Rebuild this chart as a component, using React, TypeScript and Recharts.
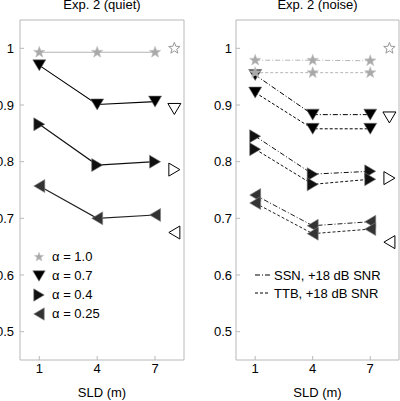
import React from 'react';
import { LineChart, Line, XAxis, YAxis, Legend } from 'recharts';

// SLD (m) categories and the extra reference position for the open markers
const SLD = [1, 4, 7];
const REF_X = 8;

// Exp. 2 (quiet)
const quietA10 = [0.993, 0.993, 0.993];
const quietA07 = [0.970, 0.901, 0.906];
const quietA04 = [0.866, 0.794, 0.800];
const quietA025 = [0.757, 0.700, 0.706];
const quietRef = [1.0, 0.893, 0.786, 0.675];

// Exp. 2 (noise) - SSN (dash-dot) and TTB (dashed)
const ssnA10 = [0.979, 0.979, 0.978];
const ssnA07 = [0.953, 0.883, 0.883];
const ssnA04 = [0.845, 0.778, 0.783];
const ssnA025 = [0.741, 0.687, 0.694];
const ttbA10 = [0.957, 0.957, 0.957];
const ttbA07 = [0.922, 0.858, 0.858];
const ttbA04 = [0.822, 0.760, 0.769];
const ttbA025 = [0.727, 0.673, 0.681];
const noiseRef = [1.0, 0.878, 0.771, 0.658];

const X_TICKS = [1, 4, 7];
const Y_TICKS = [0.5, 0.6, 0.7, 0.8, 0.9, 1];
const ALPHA_LABELS = ['\u03b1 = 1.0', '\u03b1 = 0.7', '\u03b1 = 0.4', '\u03b1 = 0.25'];
const NOISE_LABELS = ['SSN, +18 dB SNR', 'TTB, +18 dB SNR'];

const FONT = '"Liberation Sans", Arial, Helvetica, sans-serif';
const FRAME = '#b8b8b8';
const SSN_DASH = '5 2 1 2';
const TTB_DASH = '3 2';

type Kind = 'star' | 'down' | 'right' | 'left';

const STYLE: Record<Kind, { fill: string; edge: string; line: string }> = {
  star: { fill: '#a9a9a9', edge: '#c4c4c4', line: '#b4b4b4' },
  down: { fill: '#000', edge: '#777', line: '#000' },
  right: { fill: '#111', edge: '#777', line: '#111' },
  left: { fill: '#333', edge: '#888', line: '#222' },
};
const KINDS: Kind[] = ['star', 'down', 'right', 'left'];

const starPoints = (cx: number, cy: number, r: number) => {
  const pts: string[] = [];
  for (let i = 0; i < 10; i++) {
    const rr = i % 2 === 0 ? r : r * 0.42;
    const a = -Math.PI / 2 + (i * Math.PI) / 5;
    pts.push(`${cx + rr * Math.cos(a)},${cy + rr * Math.sin(a)}`);
  }
  return pts.join(' ');
};

const Marker = ({ kind, cx, cy, open = false, s = 1 }: { kind: Kind; cx: number; cy: number; open?: boolean; s?: number }) => {
  const st = STYLE[kind];
  const fill = open ? '#fff' : st.fill;
  const stroke = open ? (kind === 'star' ? '#999' : '#000') : st.edge;
  const sw = open ? 1 : 0.6;
  if (kind === 'star') {
    return <polygon points={starPoints(cx, cy, 6 * s)} fill={fill} stroke={stroke} strokeWidth={sw} />;
  }
  const w = 6.5 * s;
  const h = 5.5 * s;
  let pts = '';
  if (kind === 'down') pts = `${cx - w},${cy - h} ${cx + w},${cy - h} ${cx},${cy + h}`;
  if (kind === 'right') pts = `${cx - h},${cy - w} ${cx - h},${cy + w} ${cx + h},${cy}`;
  if (kind === 'left') pts = `${cx + h},${cy - w} ${cx + h},${cy + w} ${cx - h},${cy}`;
  return <polygon points={pts} fill={fill} stroke={stroke} strokeWidth={sw} />;
};

const dotFor = (kind: Kind, open = false) => (p: any) => {
  const k = `${p.dataKey}-${p.index}`;
  if (p.value == null || p.cy == null || p.cx == null) return <g key={k} />;
  return (
    <g key={k}>
      <Marker kind={kind} cx={p.cx} cy={p.cy} open={open} />
    </g>
  );
};

const makeRows = (cols: Record<string, number[]>, refs: number[]) => [
  ...SLD.map((x, i) => {
    const r: Record<string, number> = { x };
    Object.keys(cols).forEach((k) => (r[k] = cols[k][i]));
    return r;
  }),
  { x: REF_X, r10: refs[0], r07: refs[1], r04: refs[2], r025: refs[3] },
];

const quietRows = makeRows({ a10: quietA10, a07: quietA07, a04: quietA04, a025: quietA025 }, quietRef);
const noiseRows = makeRows(
  {
    s10: ssnA10, s07: ssnA07, s04: ssnA04, s025: ssnA025,
    t10: ttbA10, t07: ttbA07, t04: ttbA04, t025: ttbA025,
  },
  noiseRef,
);

const KEY_SUFFIX = ['10', '07', '04', '025'];

const QuietLegend = () => (
  <div style={{ fontFamily: FONT, fontSize: 13, color: '#000' }}>
    {KINDS.map((kind, i) => (
      <div key={kind} style={{ height: 19, display: 'flex', alignItems: 'center' }}>
        <svg width={16} height={16} style={{ display: 'block' }}>
          <Marker kind={kind} cx={8} cy={8} s={kind === 'star' ? 0.8 : 0.95} />
        </svg>
        <span style={{ marginLeft: 5, whiteSpace: 'nowrap' }}>{ALPHA_LABELS[i]}</span>
      </div>
    ))}
  </div>
);

const NoiseLegend = () => (
  <div style={{ fontFamily: FONT, fontSize: 13, color: '#000' }}>
    {[SSN_DASH, TTB_DASH].map((dash, i) => (
      <div key={dash} style={{ height: 18, display: 'flex', alignItems: 'center' }}>
        <svg width={16} height={10} style={{ display: 'block' }}>
          <line x1={0} y1={5} x2={15} y2={5} stroke="#000" strokeWidth={1} strokeDasharray={dash} />
        </svg>
        <span style={{ marginLeft: 3, whiteSpace: 'nowrap' }}>{NOISE_LABELS[i]}</span>
      </div>
    ))}
  </div>
);

const Axes = ({ leftW, rightW, yMargin }: { leftW: number; rightW: number; yMargin: number }) => null;

const axisTick = { fill: '#000', fontSize: 13, fontFamily: FONT };

const renderAxes = (leftW: number, rightW: number, yMargin: number) => [
  <XAxis
    key="xb"
    xAxisId="b"
    dataKey="x"
    type="number"
    domain={[0, 8.5]}
    ticks={X_TICKS}
    height={41}
    tickSize={-4}
    tickMargin={8}
    stroke={FRAME}
    tick={axisTick}
    label={{ value: 'SLD (m)', position: 'insideBottom', offset: 4, fill: '#000', fontSize: 13, fontFamily: FONT }}
  />,
  <XAxis
    key="xt"
    xAxisId="t"
    orientation="top"
    type="number"
    domain={[0, 8.5]}
    ticks={X_TICKS}
    height={20}
    tickSize={-4}
    tick={false}
    stroke={FRAME}
  />,
  <YAxis
    key="yl"
    yAxisId="l"
    type="number"
    domain={[0.45, 1.05]}
    ticks={Y_TICKS}
    width={leftW}
    tickSize={-4}
    tickMargin={yMargin}
    stroke={FRAME}
    tick={axisTick}
  />,
  <YAxis
    key="yr"
    yAxisId="r"
    orientation="right"
    type="number"
    domain={[0.45, 1.05]}
    ticks={Y_TICKS}
    width={rightW}
    tickSize={-4}
    tick={false}
    stroke={FRAME}
  />,
];

const refLines = () =>
  KINDS.map((kind, i) => (
    <Line
      key={`r${i}`}
      xAxisId="b"
      yAxisId="l"
      dataKey={`r${KEY_SUFFIX[i]}`}
      stroke="none"
      dot={dotFor(kind, true)}
      activeDot={false}
      isAnimationActive={false}
    />
  ));

const Title = ({ text, left, width }: { text: string; left: number; width: number }) => (
  <div
    style={{
      position: 'absolute', left, width, top: -3.5, lineHeight: '15px',
      textAlign: 'center', fontFamily: FONT, fontSize: 13, color: '#000', whiteSpace: 'nowrap',
    }}
  >
    {text}
  </div>
);

export default function App() {
  const order: Kind[] = ['left', 'right', 'down', 'star'];
  return (
    <div style={{ position: 'absolute', left: 0, top: 0, width: 400, height: 401, background: '#fff', overflow: 'hidden' }}>
      {/* quiet panel */}
      <div style={{ position: 'absolute', left: 0, top: 0, width: 200, height: 401 }}>
        <LineChart width={200} height={401} data={quietRows} margin={{ top: 0, right: 0, bottom: 0, left: 0 }}>
          {renderAxes(20, 16, 10)}
          {order.map((kind) => {
            const i = KINDS.indexOf(kind);
            return (
              <Line
                key={`a${i}`}
                xAxisId="b"
                yAxisId="l"
                dataKey={`a${KEY_SUFFIX[i]}`}
                stroke={STYLE[kind].line}
                strokeWidth={1.1}
                dot={dotFor(kind)}
                activeDot={false}
                isAnimationActive={false}
              />
            );
          })}
          {refLines()}
          <Legend
            layout="vertical"
            align="center"
            verticalAlign="middle"
            wrapperStyle={{ left: 31, top: 247, width: 120 }}
            content={() => <QuietLegend />}
          />
        </LineChart>
        <Title text="Exp. 2 (quiet)" left={20} width={164} />
      </div>

      {/* noise panel */}
      <div style={{ position: 'absolute', left: 200, top: 0, width: 200, height: 401 }}>
        <LineChart width={200} height={401} data={noiseRows} margin={{ top: 0, right: 0, bottom: 0, left: 0 }}>
          {renderAxes(36, 1, 8)}
          {order.flatMap((kind) => {
            const i = KINDS.indexOf(kind);
            return [
              ['s', SSN_DASH],
              ['t', TTB_DASH],
            ].map(([p, dash]) => (
              <Line
                key={`${p}${i}`}
                xAxisId="b"
                yAxisId="l"
                dataKey={`${p}${KEY_SUFFIX[i]}`}
                stroke={STYLE[kind].line}
                strokeWidth={1}
                strokeDasharray={dash}
                dot={dotFor(kind)}
                activeDot={false}
                isAnimationActive={false}
              />
            ));
          })}
          {refLines()}
          <Legend
            layout="vertical"
            align="center"
            verticalAlign="middle"
            wrapperStyle={{ left: 55, top: 266, width: 140 }}
            content={() => <NoiseLegend />}
          />
        </LineChart>
        <Title text="Exp. 2 (noise)" left={36} width={163} />
      </div>
    </div>
  );
}
